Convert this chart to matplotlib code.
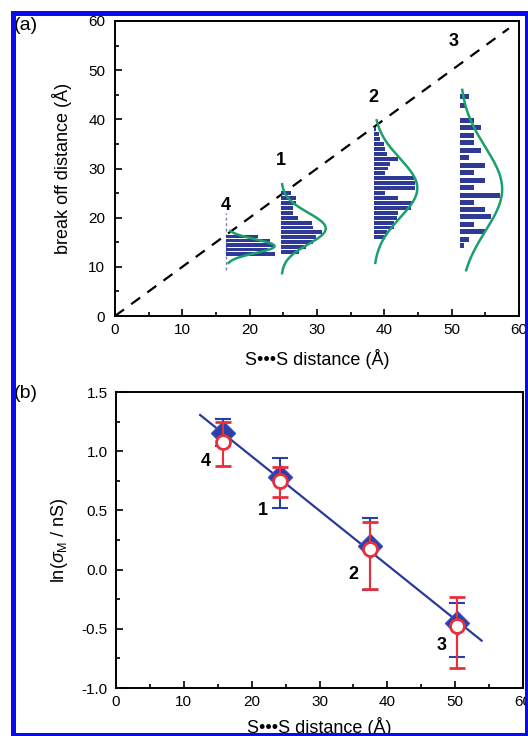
import matplotlib
matplotlib.use("Agg")
import matplotlib.pyplot as plt
import numpy as np
from matplotlib.patches import Rectangle
from matplotlib.ticker import MultipleLocator, FormatStrFormatter

plt.rcParams['font.family'] = ['Liberation Sans', 'DejaVu Sans']
plt.rcParams['axes.unicode_minus'] = False
plt.rcParams['mathtext.fontset'] = 'custom'
plt.rcParams['mathtext.rm'] = 'Liberation Sans'
plt.rcParams['mathtext.it'] = 'Liberation Sans:italic'

# ---- panel (a): break-off distance histograms ----
mol_labels = ["4", "1", "2", "3"]
hist_base = [16.5, 24.7, 38.4, 51.2]

hist4_y = [12.6, 13.5, 14.4, 15.3, 16.2]
hist4_len = [7.2, 6.2, 6.9, 6.5, 4.7]

hist1_y = [13, 14, 15, 16, 17, 18, 19, 20, 21, 22, 23, 24, 25]
hist1_len = [2.7, 3.7, 4.7, 5.2, 6.0, 4.7, 4.5, 2.5, 1.7, 1.7, 2.2, 2.2, 1.5]

hist2_y = [16, 17, 18, 19, 20, 21, 22, 23, 24, 25, 26, 27, 28, 29, 30, 31, 32,
           33, 34, 35, 36, 37, 38]
hist2_len = [1.7, 2.0, 3.0, 3.0, 3.5, 3.7, 5.5, 5.7, 3.7, 1.7, 6.2, 6.2, 6.0,
             1.7, 2.2, 2.5, 3.7, 2.0, 1.7, 1.5, 1.0, 0.75, 0.4]

hist3_y = [14.3, 15.6, 17.1, 18.7, 20.2, 21.7, 23.1, 24.6, 26.2, 27.6, 29.2,
           30.7, 32.2, 33.7, 35.2, 36.8, 38.3, 39.8, 42.9, 44.6]
hist3_len = [0.6, 1.3, 3.8, 2.1, 4.6, 3.8, 2.1, 6.0, 2.1, 3.8, 2.1, 3.8, 1.3,
             3.1, 2.1, 2.1, 3.1, 2.1, 1.0, 1.3]

# gaussian fits (centre, width, height, plotted range)
fit_mu = [14.2, 17.8, 26.0, 25.8]
fit_sigma = [1.4, 3.2, 6.0, 8.5]
fit_amp = [7.2, 6.6, 6.5, 6.3]
fit_lo = [10.8, 8.7, 10.8, 9.3]
fit_hi = [17.3, 26.8, 39.8, 46.0]

diag_end = 58.5

# ---- panel (b): ln(conductance) vs S...S distance ----
ss_dist = [15.8, 24.2, 37.5, 50.3]
ln_diamond = [1.15, 0.785, 0.20, -0.455]
diamond_hi = [1.27, 0.94, 0.433, -0.285]
diamond_lo = [1.04, 0.52, -0.17, -0.735]
ln_circle = [1.08, 0.75, 0.17, -0.48]
circle_hi = [1.25, 0.864, 0.40, -0.23]
circle_lo = [0.875, 0.616, -0.16, -0.83]
line_x = [12.4, 53.9]
line_y = [1.306, -0.60]

bar_col = '#2e3a96'
green = '#1aa06a'
dblue = '#2a40a8'
red = '#e8303c'

fig = plt.figure(figsize=(5.28, 7.36), dpi=100)
ax1 = fig.add_axes([115/528, 1-316/736, 404/528, 295/736])
ax2 = fig.add_axes([116/528, 1-688/736, 407/528, 296/736])

for ax in (ax1, ax2):
    for s in ax.spines.values():
        s.set_linewidth(1.4)
    ax.tick_params(which='both', direction='in', top=False, right=False,
                   labelsize=11, width=1.2)
    ax.tick_params(which='major', length=5)
    ax.tick_params(which='minor', length=3)

# top panel
ax1.plot([0, diag_end], [0, diag_end], color='black', lw=1.6, ls=(0, (5, 4)))
hists = [(hist4_y, hist4_len, 0.7), (hist1_y, hist1_len, 0.8),
         (hist2_y, hist2_len, 0.8), (hist3_y, hist3_len, 1.0)]
for i, (hy, hl, h) in enumerate(hists):
    ax1.barh(hy, hl, height=h, left=hist_base[i], color=bar_col, zorder=2)
    yy = np.linspace(fit_lo[i], fit_hi[i], 200)
    xx = hist_base[i] + fit_amp[i] * np.exp(-(yy - fit_mu[i])**2 / (2 * fit_sigma[i]**2))
    ax1.plot(xx, yy, color=green, lw=1.8, zorder=3)

ax1.plot([hist_base[0], hist_base[0]], [9.3, 21.0], color='#7a7aa8', lw=1.0,
         ls=(0, (2, 2)), zorder=1)

lab_a = [(16.4, 22.4), (24.7, 31.6), (38.3, 44.4), (50.3, 55.8)]
for t, (x, y) in zip(mol_labels, lab_a):
    ax1.text(x, y, t, fontsize=13, fontweight='bold', ha='center', va='center')

ax1.set_xlim(0, 60)
ax1.set_ylim(0, 60)
ax1.xaxis.set_major_locator(MultipleLocator(10))
ax1.xaxis.set_minor_locator(MultipleLocator(5))
ax1.yaxis.set_major_locator(MultipleLocator(10))
ax1.yaxis.set_minor_locator(MultipleLocator(5))
ax1.tick_params(axis='y', pad=7)
ax1.tick_params(axis='x', pad=5)
ax1.set_xlabel('S\u2022\u2022\u2022S distance (\u00c5)', fontsize=13, labelpad=9)
ax1.set_ylabel('break off distance (\u00c5)', fontsize=13, labelpad=12)

# bottom panel
ax2.plot(line_x, line_y, color='#2a3a9a', lw=1.6, zorder=1)
d_err = [np.array(ln_diamond) - np.array(diamond_lo), np.array(diamond_hi) - np.array(ln_diamond)]
ax2.errorbar(ss_dist, ln_diamond, yerr=d_err, fmt='D', color=dblue, ms=12,
             mfc=dblue, mec='#3550c0', ecolor=dblue, elinewidth=1.5, capsize=6,
             capthick=1.5, zorder=2)
c_err = [np.array(ln_circle) - np.array(circle_lo), np.array(circle_hi) - np.array(ln_circle)]
ax2.errorbar(ss_dist, ln_circle, yerr=c_err, fmt='o', color=red, ms=10,
             mfc='white', mec=red, mew=2.0, ecolor=red, elinewidth=1.5,
             capsize=6, capthick=1.5, zorder=4)

lab_b = [(13.3, 0.91), (21.6, 0.50), (35.0, -0.045), (48.0, -0.64)]
for t, (x, y) in zip(mol_labels, lab_b):
    ax2.text(x, y, t, fontsize=13, fontweight='bold', ha='center', va='center')

ax2.set_xlim(0, 60)
ax2.set_ylim(-1.0, 1.5)
ax2.xaxis.set_major_locator(MultipleLocator(10))
ax2.xaxis.set_minor_locator(MultipleLocator(5))
ax2.yaxis.set_major_locator(MultipleLocator(0.5))
ax2.yaxis.set_minor_locator(MultipleLocator(0.25))
ax2.yaxis.set_major_formatter(FormatStrFormatter('%.1f'))
ax2.tick_params(axis='y', pad=6)
ax2.tick_params(axis='x', pad=5)
ax2.set_xlabel('S\u2022\u2022\u2022S distance (\u00c5)', fontsize=13, labelpad=6)
ax2.set_ylabel(r'ln($\sigma_{\rm M}$ / nS)', fontsize=13, labelpad=8)

fig.text(14/528, 1-25/736, '(a)', fontsize=14, ha='left', va='center')
fig.text(14/528, 1-394/736, '(b)', fontsize=14, ha='left', va='center')

# blue frame around the whole figure
frame = Rectangle((12.5/528, 1/736), (526.5-12.5)/528, (723.5-1)/736,
                  transform=fig.transFigure, fill=False, edgecolor='#0a0af0',
                  lw=3.6, clip_on=False, zorder=10)
fig.add_artist(frame)

fig.savefig('out.png', dpi=100)
